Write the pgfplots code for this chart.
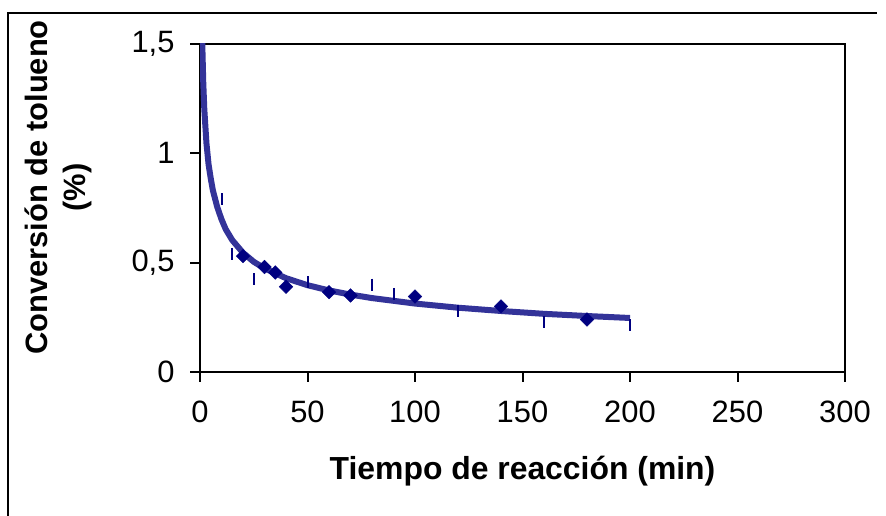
\documentclass[border=0pt]{standalone}
\usepackage{pgfplots}
\pgfplotsset{compat=1.18}
\usepackage{fontspec}
\setmainfont{Liberation Sans}
\definecolor{fitline}{HTML}{333399}
\definecolor{navy}{HTML}{000080}
\begin{document}
\begin{tikzpicture}[x=1bp,y=1bp]
\path[use as bounding box] (0,0) rectangle (886,516);
\draw[line width=2bp] (8,0) -- (8,503) -- (877,503);
\begin{axis}[
  at={(200bp,144bp)}, anchor=south west,
  scale only axis, width=645bp, height=328bp,
  xmin=0, xmax=300, ymin=0, ymax=1.5,
  xtick={0,50,...,300}, ytick={0,0.5,1,1.5},
  xtick pos=bottom, ytick pos=left,
  tick align=outside, major tick length=10bp,
  tick style={line width=2bp, black},
  axis line style={line width=2bp},
  /pgf/number format/use comma,
  /pgf/number format/assume math mode=true,
  ticklabel style={font=\fontsize{31}{37}\selectfont},
  xticklabel style={yshift=-15bp},
  yticklabel style={xshift=-12bp},
  xlabel={Tiempo de reacción (min)},
  ylabel={Conversión de tolueno\\(\%)},
  label style={font=\bfseries\fontsize{31}{38}\selectfont},
  xlabel style={at={(axis description cs:0.5,-0.302)}, anchor=center, font=\bfseries\fontsize{32}{38}\selectfont},
  ylabel style={at={(axis description cs:-0.220,0.5625)}, anchor=center, rotate=0, align=center},
  clip=true,
]
\addplot[color=fitline, line width=6bp, mark=none, line join=round] coordinates {
(0.7,1.726) (1,1.526) (1.5,1.328) (2,1.202) (3,1.046) (4,0.948) (5,0.885)
(6,0.830) (8,0.755) (10,0.698) (12,0.652) (15,0.603) (20,0.545) (25,0.504)
(30,0.474) (40,0.429) (50,0.397) (60,0.373) (70,0.354) (80,0.338)
(100,0.313) (120,0.294) (140,0.279) (160,0.266) (180,0.256) (200,0.247)
};
\addplot[only marks, mark=square*, mark size=4.8bp, mark options={rotate=45, fill=navy, draw=navy}] coordinates {
(20,0.53) (30,0.48) (35,0.455) (40,0.39) (60,0.365) (70,0.35) (100,0.345) (140,0.30) (180,0.24)
};
\addplot[only marks, mark=|, mark size=6bp, mark options={line width=2bp, draw=navy}] coordinates {
(10,0.79) (15,0.54) (25,0.425) (50,0.41) (80,0.40) (90,0.357) (120,0.28) (160,0.23) (200,0.216)
};
\end{axis}
\end{tikzpicture}
\end{document}
